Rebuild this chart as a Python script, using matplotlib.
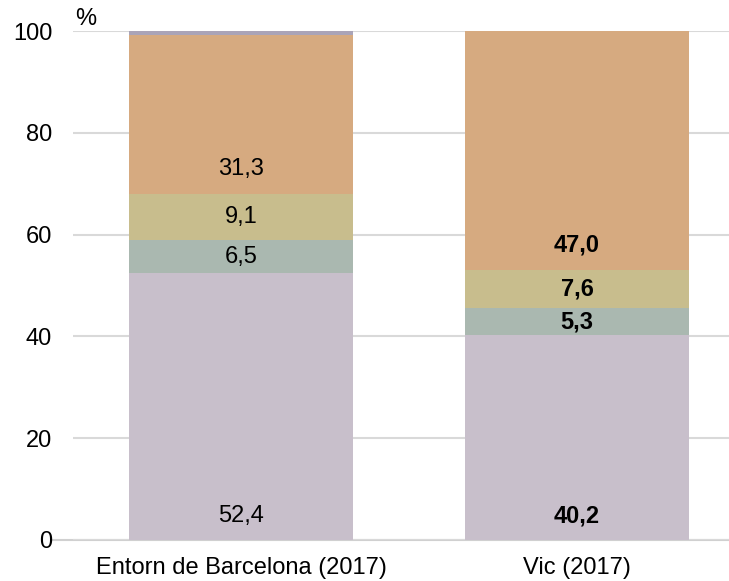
import matplotlib.pyplot as plt
import numpy as np

plt.rcParams['font.family'] = ['Liberation Sans', 'DejaVu Sans']

categories = ['Entorn de Barcelona (2017)', 'Vic (2017)']
seg1 = [52.4, 40.2]
seg2 = [6.5, 5.3]
seg3 = [9.1, 7.6]
seg4 = [31.3, 47.0]
seg5 = [0.7, 0.0]
labels = [['52,4', '40,2'], ['6,5', '5,3'], ['9,1', '7,6'], ['31,3', '47,0'], ['', '']]

colors = ['#c8bfcb', '#aab8b0', '#c8bd8d', '#d6aa80', '#aaa4b8']
segments = [seg1, seg2, seg3, seg4, seg5]

fig = plt.figure(figsize=(7.29, 5.81), dpi=100)
ax = fig.add_axes([73 / 729, 41 / 581, 672 / 729, 509 / 581])

x = np.arange(len(categories))
bottom = np.zeros(len(categories))
for i, seg in enumerate(segments):
    seg = np.array(seg)
    ax.bar(x, seg, 0.667, bottom=bottom, color=colors[i], zorder=2)
    for j in range(len(x)):
        if labels[i][j] == '':
            continue
        if seg[j] > 20:
            ypos = bottom[j] + 4.8
        else:
            ypos = bottom[j] + seg[j] / 2
        ax.text(x[j], ypos, labels[i][j], ha='center', va='center', fontsize=17,
                fontweight='bold' if j == 1 else 'normal', color='black', zorder=3)
    bottom += seg

ax.set_xlim(-0.5, 1.5)
ax.set_ylim(0, 100)
ax.set_yticks([0, 20, 40, 60, 80, 100])
ax.set_xticks(x)
ax.set_xticklabels(categories)
ax.tick_params(axis='both', length=0, labelsize=17)
ax.tick_params(axis='y', pad=15)
ax.tick_params(axis='x', pad=12)
ax.grid(axis='y', color='#d9d9d9', linewidth=1.5, zorder=0)
for s in ax.spines.values():
    s.set_visible(False)
ax.plot([-0.563, 1.5], [0, 0], color='#d0d0d0', linewidth=1.5, clip_on=False, zorder=1)

fig.text(75 / 729, 1 - 19 / 581, '%', fontsize=17, ha='left', va='center')

fig.savefig('out.png', dpi=100)
